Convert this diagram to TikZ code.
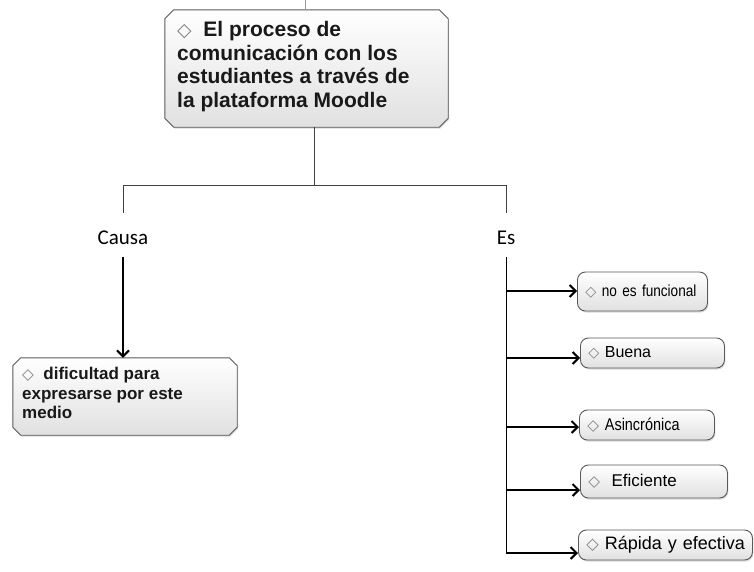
\documentclass[tikz,border=0pt]{standalone}
\usepackage{fontspec}
\setmainfont{Liberation Sans}
\newfontfamily\symf{DejaVu Sans}
\newfontfamily\calib{Carlito}
\newfontfamily\narrowf[FakeStretch=0.85]{Liberation Sans}
\usetikzlibrary{arrows.meta,shadows}
\newcommand{\dm}{{\symf\color{black!50}\scalebox{0.9}{\char"25C7}}}
\newcommand{\chamfpath}[2]{%
  \path[boxstyle] ([xshift=#2]#1.north west) -- ([xshift=-#2]#1.north east)
    -- ([yshift=-#2]#1.north east) -- ([yshift=#2]#1.south east)
    -- ([xshift=-#2]#1.south east) -- ([xshift=#2]#1.south west)
    -- ([yshift=#2]#1.south west) -- ([yshift=-#2]#1.north west) -- cycle;}
\tikzset{
 boxstyle/.style={draw=black!65, line width=0.9pt, shading=axis, top color=white,
   middle color=white, bottom color=black!12,
   drop shadow={shadow xshift=1pt,shadow yshift=-1.5pt,opacity=0.3}},
 plainbox/.style={rectangle, inner sep=0pt},
 pillbox/.style={boxstyle, rectangle, rounded corners=8pt, inner ysep=0pt, inner xsep=8pt,
   align=left, anchor=west},
 conn/.style={draw=black!75, line width=1pt},
 arr/.style={draw=black, line width=1.2pt, -{Straight Barb[length=6pt,width=12pt,line width=2pt]}},
 lbl/.style={font=\calib\fontsize{21}{24}\selectfont, inner sep=0pt},
 boxtext/.style={inner sep=0pt, align=left, anchor=north west}
}
\begin{document}
\begin{tikzpicture}[x=1pt,y=-1pt]
\path[use as bounding box] (0,0) rectangle (754,571);

% top box
\node[plainbox, minimum width=283pt, minimum height=117pt] (top) at (306.5,68.5) {};
\chamfpath{top}{9pt}
\node[boxtext, font=\bfseries\fontsize{21}{23.5}\selectfont, text=black!90] (toptext) at (177,21.5)
  {\dm\ \ El proceso de\\comunicación con los\\estudiantes a través de\\la plataforma Moodle};
\coordinate (tick) at (305,0);
\draw[draw=black!40, line width=0.6pt] (tick) -- (top.north -| tick);

% left box
\node[plainbox, minimum width=224pt, minimum height=77pt] (left) at (125,396.5) {};
\chamfpath{left}{8pt}
\node[boxtext, font=\bfseries\fontsize{17}{19.5}\selectfont, text=black!90] (lefttext) at (22,367)
  {\dm\ \ dificultad para\\expresarse por este\\medio};

% labels
\node[lbl, anchor=base] (causa) at (123,244) {Causa};
\node[lbl, anchor=base] (es) at (506,244) {Es};

% tree connectors
\coordinate (j) at (314,185.5);
\coordinate (cA) at (123,213);
\coordinate (eA) at (506,213);
\draw[conn] (top.south -| j) -- (j);
\draw[conn] (cA) -- (cA |- j) -- (eA |- j) -- (eA);

% causa arrow
\coordinate (cB) at (123,257);
\draw[arr] (cB) -- (left.north -| cB);

% right boxes
\node[pillbox, minimum height=39pt, text width=114pt, font=\narrowf\fontsize{16}{18}\selectfont] (b1) at (577,291.5) {\mbox{\dm\ no es funcional}};
\node[pillbox, minimum height=30pt, text width=128pt, font=\fontsize{16}{18}\selectfont] (b2) at (580,353) {\mbox{\dm\ Buena}};
\node[pillbox, minimum height=30pt, text width=119pt, font=\narrowf\fontsize{17}{19}\selectfont] (b3) at (579,425) {\mbox{\dm\ Asincrónica}};
\node[pillbox, minimum height=33pt, text width=131pt, font=\fontsize{17}{19}\selectfont] (b4) at (580,481.5) {\mbox{\dm\ \ Eficiente}};
\node[pillbox, minimum height=30pt, text width=158pt, font=\fontsize{18}{20}\selectfont] (b5) at (578,545) {\mbox{\dm\ Rápida y efectiva}};

\coordinate (eB) at (506,257);
\coordinate (r1) at (506,291);
\coordinate (r2) at (506,358);
\coordinate (r3) at (506,427);
\coordinate (r4) at (506,490);
\coordinate (r5) at (506,553);
\draw[conn, draw=black] (eB) -- (r5);
\draw[arr] (r1) -- (b1.west |- r1);
\draw[arr] (r2) -- (b2.west |- r2);
\draw[arr] (r3) -- (b3.west |- r3);
\draw[arr] (r4) -- (b4.west |- r4);
\draw[arr] (r5) -- (b5.west |- r5);
\end{tikzpicture}
\end{document}
